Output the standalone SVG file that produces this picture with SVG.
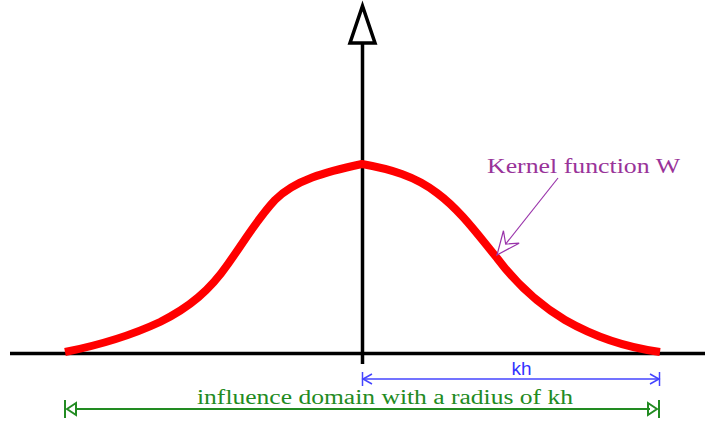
<svg xmlns="http://www.w3.org/2000/svg" width="705" height="421" viewBox="0 0 705 421">
<defs>
<style>
.serif{font-family:"Liberation Serif","Times New Roman",serif}
.sans{font-family:"Liberation Sans",Arial,sans-serif}
</style>
<marker id="openArrowPurple" viewBox="0 0 26 22" refX="24" refY="11" markerWidth="26" markerHeight="22" markerUnits="userSpaceOnUse" orient="auto">
<path d="M24,11 L1,1 L10,11 L1,21 Z" fill="#fff" stroke="#9933aa" stroke-width="1.2" stroke-linejoin="miter"/>
</marker>
</defs>
<rect width="705" height="421" fill="#fff"/>
<g id="axes">
<line x1="10" y1="353.5" x2="705" y2="353.5" stroke="#000" stroke-width="3.5"/>
<line x1="362.5" y1="364" x2="362.5" y2="42" stroke="#000" stroke-width="3.5"/>
<path d="M362.5,6 L375,43 L350,43 Z" fill="#fff" stroke="#000" stroke-width="3.5" stroke-linejoin="miter"/>
</g>
<g id="kernel-curve">
<path d="M65,352 C95,346 130,336 160,322 C190,307 210,290 228,264 C245,240 258,218 275,200 C295,180 325,172 362,164 C390,169 415,176 437,193 C460,210 478,235 497,258 C515,282 540,305 565,320 C600,340 630,348 660,352" fill="none" stroke="#ff0000" stroke-width="8" stroke-linecap="butt" stroke-linejoin="round"/>
</g>
<g id="kernel-label">
<text class="serif" x="487" y="173" font-size="22" fill="#993399" textLength="193" lengthAdjust="spacingAndGlyphs">Kernel function W</text>
</g>
<g id="connectors">
<line x1="558" y1="178" x2="497" y2="255" stroke="#9933aa" stroke-width="1.2" marker-end="url(#openArrowPurple)"/>
<g id="kh-dimension" stroke="#4444ff" stroke-width="1.5" fill="none">
<line x1="362.5" y1="379" x2="659.5" y2="379"/>
<line x1="362.5" y1="372" x2="362.5" y2="386"/>
<line x1="659.5" y1="372" x2="659.5" y2="386"/>
<path d="M372,374 L363,379 L372,384"/>
<path d="M650,374 L659,379 L650,384"/>
</g>
<g id="domain-dimension" stroke="#228b22" stroke-width="2" fill="none">
<line x1="75" y1="409" x2="650" y2="409"/>
<line x1="65" y1="400" x2="65" y2="418"/>
<line x1="659" y1="400" x2="659" y2="418"/>
<path d="M67,409 L76,403 L76,415 Z"/>
<path d="M657,409 L648,403 L648,415 Z"/>
</g>
</g>
<g id="labels">
<text class="sans" x="521.5" y="375" font-size="19" fill="#3333ff" text-anchor="middle">kh</text>
<text class="serif" x="197" y="404" font-size="20" fill="#228b22" textLength="376" lengthAdjust="spacingAndGlyphs">influence domain with a radius of kh</text>
</g>
</svg>
